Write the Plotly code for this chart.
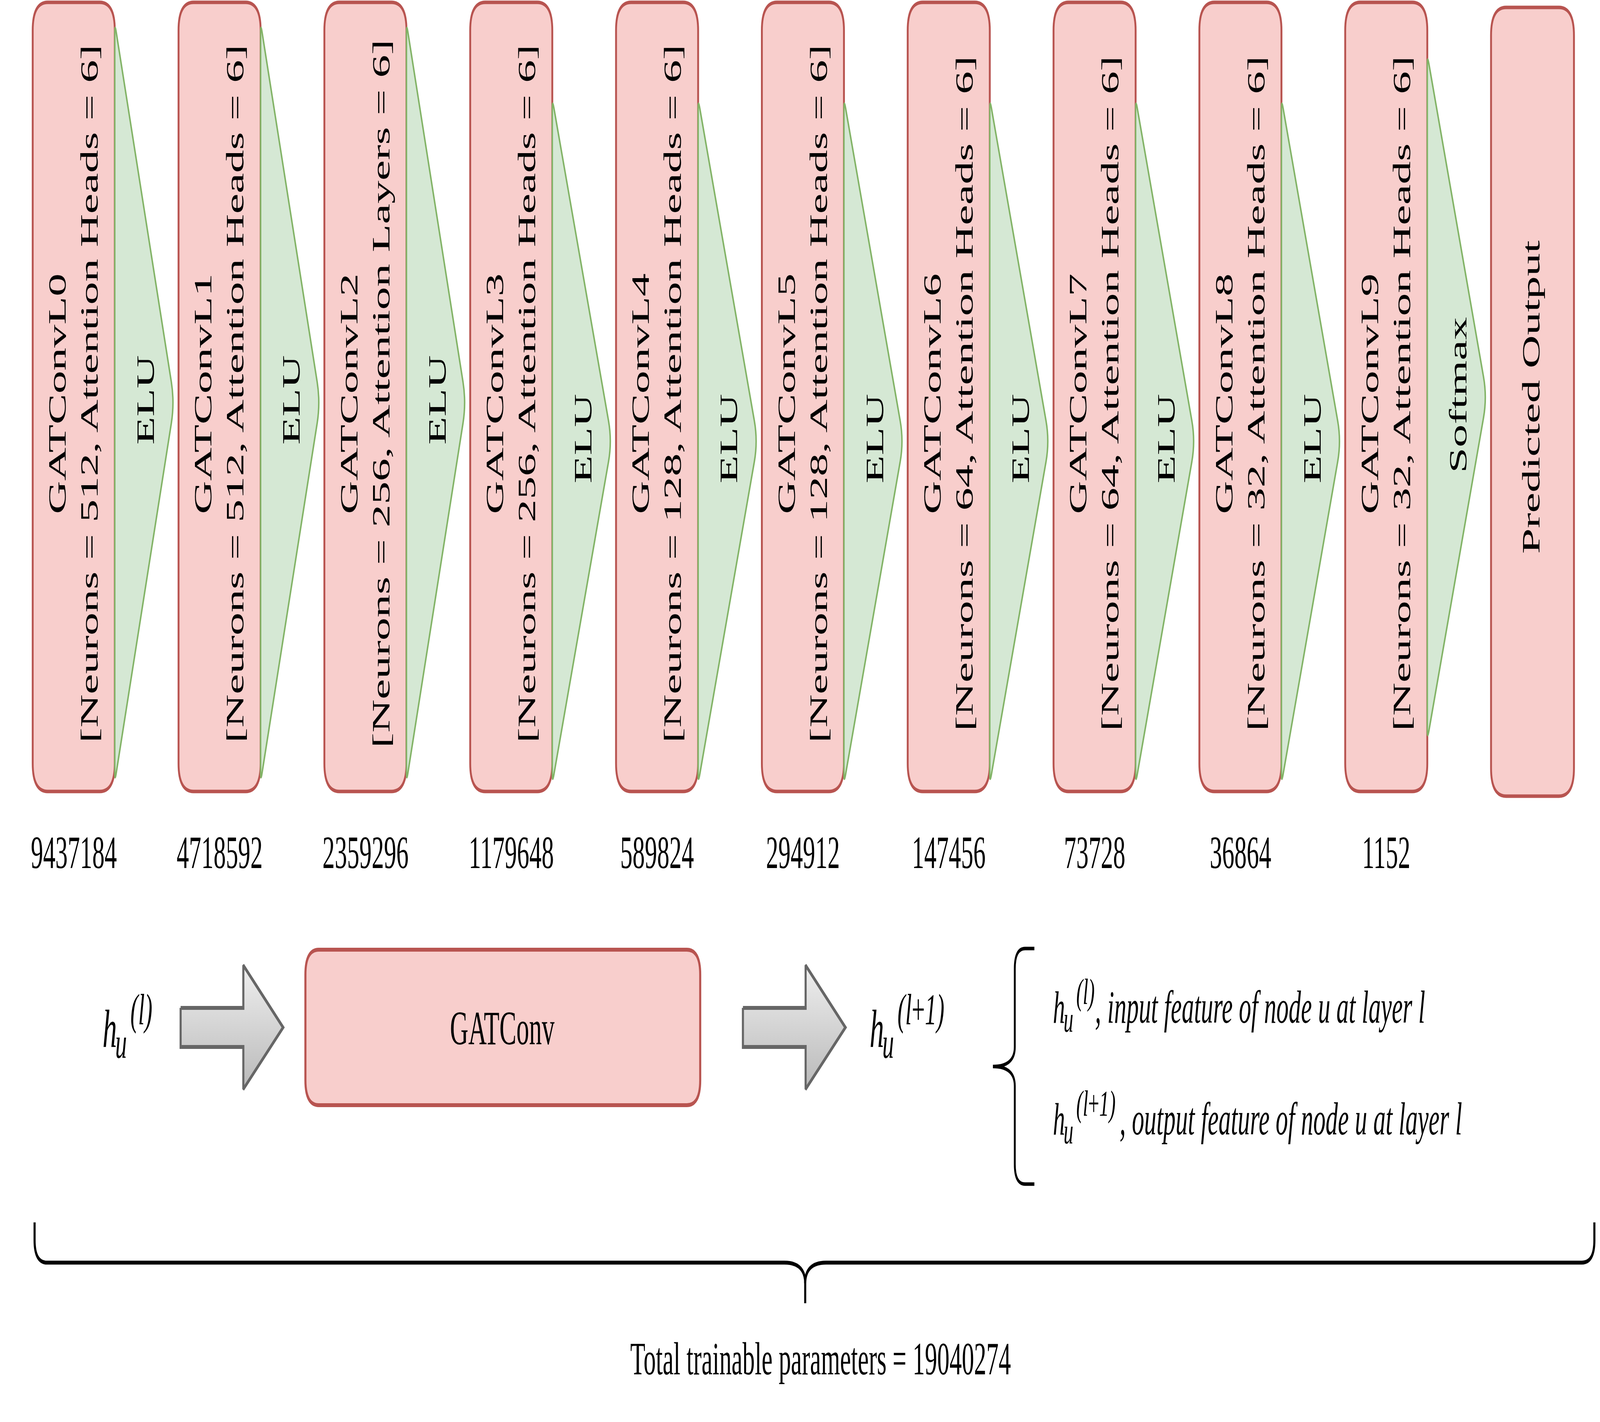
import math
import plotly.graph_objects as go

# ---- data ----
LAYER_NAMES = ["GATConvL0", "GATConvL1", "GATConvL2", "GATConvL3", "GATConvL4",
               "GATConvL5", "GATConvL6", "GATConvL7", "GATConvL8", "GATConvL9"]
NEURONS = [512, 512, 256, 256, 128, 128, 64, 64, 32, 32]
HEAD_LABELS = ["Attention Heads", "Attention Heads", "Attention Layers", "Attention Heads",
               "Attention Heads", "Attention Heads", "Attention Heads", "Attention Heads",
               "Attention Heads", "Attention Heads"]
HEADS = [6, 6, 6, 6, 6, 6, 6, 6, 6, 6]
ACTIVATIONS = ["ELU", "ELU", "ELU", "ELU", "ELU", "ELU", "ELU", "ELU", "ELU", "Softmax"]
PARAMS = [9437184, 4718592, 2359296, 1179648, 589824, 294912, 147456, 73728, 36864, 1152]
OUTPUT_LABEL = "Predicted Output"
TOTAL_PARAMS = 19040274
LEGEND_TEXT = ["input feature of node u at layer l", "output feature of node u at layer l"]

# ---- canvas / styling ----
W, H = 7680, 3640
FONT = "Liberation Serif"
FS = 118
RED_FILL, RED_LINE = "#f8cecc", "#b85450"
GREEN_FILL, GREEN_LINE = "#d5e8d4", "#82b366"
GREY_LINE = "#666666"

BOX_X0, BOX_STEP, BOX_W = 153, 700, 402
BOX_TOP, BOX_BOT = 6, 2026
CHEV_W = 287
# vertical extent of each activation chevron (top, bottom)
CHEV_SPAN = [(59, 2002)] * 3 + [(253, 2006)] * 6 + [(140, 1894)]


def rounded_rect(x0, y0, x1, y1, r):
    return (f"M {x0+r},{y0} L {x1-r},{y0} Q {x1},{y0} {x1},{y0+r} "
            f"L {x1},{y1-r} Q {x1},{y1} {x1-r},{y1} L {x0+r},{y1} "
            f"Q {x0},{y1} {x0},{y1-r} L {x0},{y0+r} Q {x0},{y0} {x0+r},{y0} Z")


def chevron(xr, t, b, w, c=26, d=55):
    m = (t + b) / 2
    ax = xr + w
    L = math.hypot(w, m - t)
    ux, uy = w / L, (m - t) / L
    return (f"M {xr},{b-c} L {xr},{t+c} Q {xr},{t} {xr+ux*c},{t+uy*c} "
            f"L {ax-ux*d},{m-uy*d} Q {ax},{m} {ax-ux*d},{m+uy*d} "
            f"L {xr+ux*c},{b-uy*c} Q {xr},{b} {xr},{b-c} Z")


shapes = []
annotations = []


def text(x, y, s, size=FS, angle=0, xanchor="center", yanchor="middle"):
    annotations.append(dict(x=x, y=y, xref="x", yref="y", text=s, showarrow=False,
                            textangle=angle, xanchor=xanchor, yanchor=yanchor,
                            font=dict(family=FONT, size=size, color="black")))


def baseline_text(x, base, s, size):
    # left-anchored text placed by its baseline
    text(x, base - 0.3375 * size, s, size=size, xanchor="left")


def h_symbol(x, base, sup, h_size, s_size, sup_dx):
    baseline_text(x, base, "<i>h</i>", h_size)
    baseline_text(x + 0.44 * h_size, base + 0.2 * h_size, "<i>u</i>", s_size)
    baseline_text(x + sup_dx, base - 0.42 * h_size, sup, s_size)


# ---- top row: layers + activations ----
for i, name in enumerate(LAYER_NAMES):
    x0 = BOX_X0 + i * BOX_STEP
    xr = x0 + BOX_W
    shapes.append(dict(type="path", path=rounded_rect(x0 + 4, BOX_TOP, xr - 4, BOX_BOT, 72),
                       fillcolor=RED_FILL, line=dict(color=RED_LINE, width=9)))
    t, b = CHEV_SPAN[i]
    shapes.append(dict(type="path", path=chevron(xr - 4, t, b, CHEV_W),
                       fillcolor=GREEN_FILL, line=dict(color=GREEN_LINE, width=7)))
    text(x0 + 122, 1008, name, angle=-90)
    text(x0 + 276, 1008, f"[Neurons = {NEURONS[i]}, {HEAD_LABELS[i]} = {HEADS[i]}]", angle=-90)
    text(xr + 144, (t + b) / 2 - 6, ACTIVATIONS[i], angle=-90)
    text(x0 + BOX_W / 2, 2182, str(PARAMS[i]))

# output box
ox0 = BOX_X0 + len(LAYER_NAMES) * BOX_STEP
shapes.append(dict(type="path", path=rounded_rect(ox0 + 4, 19, ox0 + BOX_W, 2038, 72),
                   fillcolor=RED_FILL, line=dict(color=RED_LINE, width=9)))
text(ox0 + BOX_W / 2 - 4, 1017, OUTPUT_LABEL, angle=-90)

# ---- bottom row: GATConv block explanation ----
fig = go.Figure()
ARROW_X = [867, 3566]
for a0 in ARROW_X:
    hx, tx = a0 + 301, a0 + 492
    xs = [a0, hx, hx, tx, hx, hx, a0, a0]
    ys = [2580, 2580, 2471, 2630, 2788, 2680, 2680, 2580]
    fig.add_trace(go.Scatter(x=xs, y=ys, mode="lines", fill="toself",
                             line=dict(color=GREY_LINE, width=10),
                             fillgradient=dict(type="vertical", start=2471, stop=2788,
                                               colorscale=[[0, "#efefef"], [1, "#b9b9b9"]]),
                             hoverinfo="skip", showlegend=False))

shapes.append(dict(type="path", path=rounded_rect(1466, 2431, 3361, 2829, 64),
                   fillcolor=RED_FILL, line=dict(color=RED_LINE, width=10)))
text(2411, 2631, "GATConv", size=122)

SUP_IN = "<i>(l)</i>"
SUP_OUT = "<i>(l</i>+<i>1)</i>"
h_symbol(490, 2680, SUP_IN, 138, 112, 134)
h_symbol(4172, 2680, SUP_OUT, 138, 112, 134)

# legend brace
shapes.append(dict(type="path",
                   path=("M 4965,2428 L 4920,2428 Q 4871,2428 4871,2480 L 4871,2680 "
                         "Q 4871,2730 4766,2730 Q 4871,2730 4871,2780 L 4871,2980 "
                         "Q 4871,3031 4920,3031 L 4965,3031"),
                   line=dict(color="black", width=9)))
h_symbol(5052, 2618, SUP_IN, 116, 94, 112)
baseline_text(5254, 2618, f"<i>, {LEGEND_TEXT[0]}</i>", 118)
h_symbol(5052, 2904, SUP_OUT, 116, 94, 112)
baseline_text(5372, 2904, f"<i>, {LEGEND_TEXT[1]}</i>", 118)

# total brace
shapes.append(dict(type="path",
                   path="M 166,3129 L 166,3175 Q 166,3232 226,3232 L 3765,3232 Q 3865,3232 3865,3285 L 3865,3336",
                   line=dict(color="black", width=10)))
shapes.append(dict(type="path",
                   path="M 3865,3285 Q 3865,3232 3965,3232 L 7593,3232 Q 7653,3232 7653,3175 L 7653,3129",
                   line=dict(color="black", width=10)))
text(3939, 3478, f"Total trainable parameters = {TOTAL_PARAMS}")

fig.update_layout(
    width=W, height=H,
    margin=dict(l=0, r=0, t=0, b=0),
    paper_bgcolor="white", plot_bgcolor="white",
    xaxis=dict(range=[0, W], visible=False, fixedrange=True),
    yaxis=dict(range=[H, 0], visible=False, fixedrange=True),
    shapes=shapes, annotations=annotations,
    showlegend=False, hovermode=False,
)

# the browser window may be smaller than the 7680x3640 canvas: scale the drawing to fill it
fit_js = """
var gd = document.getElementById('{plot_id}');
document.body.style.margin = '0';
document.body.style.overflow = 'hidden';
var sx = window.innerWidth / %d, sy = window.innerHeight / %d;
gd.parentElement.style.width = window.innerWidth + 'px';
gd.parentElement.style.height = window.innerHeight + 'px';
gd.parentElement.style.overflow = 'hidden';
gd.style.transformOrigin = '0 0';
gd.style.transform = 'scale(' + sx + ',' + sy + ')';
""" % (W, H)
fig.write_html("out.html", post_script=fit_js,
               config={"displayModeBar": False, "staticPlot": True})
